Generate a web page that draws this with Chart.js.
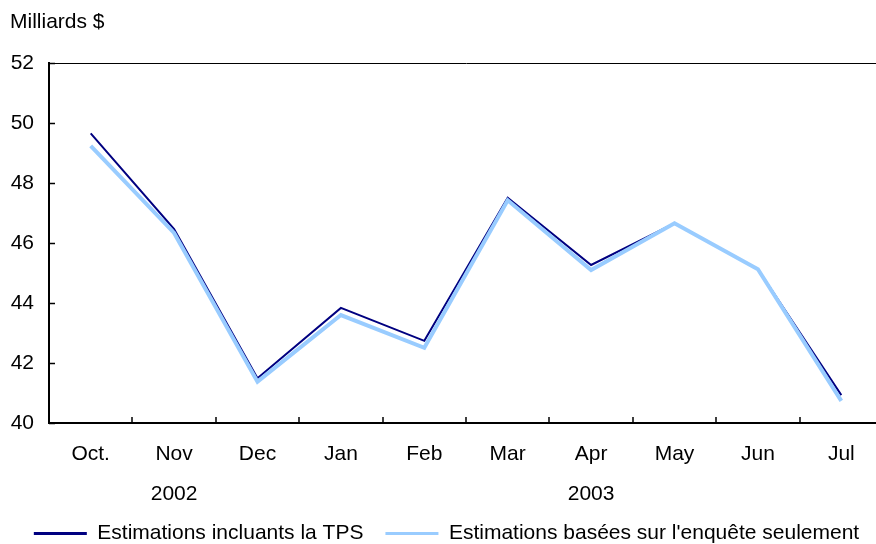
<!DOCTYPE html>
<html>
<head>
<meta charset="utf-8">
<script src="https://cdn.jsdelivr.net/npm/chart.js@4"></script>
<style>
  html, body { margin: 0; padding: 0; background: #fff; overflow: hidden; }
  #wrap { width: 876px; height: 544px; overflow: hidden; }
</style>
</head>
<body>
<div id="wrap"><canvas id="chart" width="883" height="544"></canvas></div>
<script>
// donnees (milliards $)
const mois = ['Oct.', 'Nov', 'Dec', 'Jan', 'Feb', 'Mar', 'Apr', 'May', 'Jun', 'Jul'];
const annees = ['', '2002', '', '', '', '', '2003', '', '', ''];
const avecTPS = [49.66, 46.47, 41.49, 43.84, 42.74, 47.51, 45.27, 46.66, 45.13, 40.93];
const enqueteSeule = [49.24, 46.34, 41.38, 43.60, 42.51, 47.43, 45.10, 46.66, 45.13, 40.74];
const yTicks = [40, 42, 44, 46, 48, 50, 52];

const FONT = 'Arial, "Liberation Sans", sans-serif';

// petites marques vers l'interieur du graphique, comme dans l'original
const inwardTicks = {
    id: 'inwardTicks',
    afterDatasetsDraw(chart) {
        const ctx = chart.ctx;
        const area = chart.chartArea;
        const x = chart.scales.x;
        const y = chart.scales.y;
        ctx.save();
        ctx.strokeStyle = '#000';
        ctx.lineWidth = 1.5;
        ctx.beginPath();
        yTicks.forEach(v => {
            const py = Math.round(y.getPixelForValue(v)) + 0.5;
            ctx.moveTo(area.left, py);
            ctx.lineTo(area.left + 6, py);
        });
        for (let i = 1; i < mois.length; i++) {
            const px = Math.round((x.getPixelForValue(i - 1) + x.getPixelForValue(i)) / 2);
            ctx.moveTo(px, area.bottom);
            ctx.lineTo(px, area.bottom - 6);
        }
        ctx.stroke();
        ctx.restore();
    }
};

const ctx = document.getElementById('chart').getContext('2d');
new Chart(ctx, {
    type: 'line',
    data: {
        labels: mois.map((m, i) => [m, annees[i]]),
        datasets: [
            {
                label: 'Estimations incluants la TPS',
                data: avecTPS,
                borderColor: '#000080',
                backgroundColor: '#000080',
                borderWidth: 2,
                pointRadius: 0,
                tension: 0,
                order: 1
            },
            {
                label: "Estimations basées sur l'enquête seulement",
                data: enqueteSeule,
                borderColor: '#99ccff',
                backgroundColor: '#99ccff',
                borderWidth: 4,
                pointRadius: 0,
                tension: 0,
                order: 0
            }
        ]
    },
    options: {
        responsive: false,
        animation: false,
        layout: { padding: { left: 10, right: 0, top: 8, bottom: -10 } },
        plugins: {
            title: {
                display: true,
                text: 'Milliards $',
                align: 'start',
                color: '#000',
                font: { family: FONT, size: 21, weight: 'normal' },
                padding: { top: 2, bottom: 28 }
            },
            legend: {
                position: 'bottom',
                labels: {
                    color: '#000',
                    font: { family: FONT, size: 21 },
                    boxWidth: 53,
                    boxHeight: 3,
                    padding: 22,
                    generateLabels(chart) {
                        return chart.data.datasets.map((d, i) => ({
                            text: d.label,
                            fillStyle: d.borderColor,
                            strokeStyle: d.borderColor,
                            lineWidth: 0,
                            fontColor: '#000',
                            datasetIndex: i
                        }));
                    }
                }
            },
            tooltip: { enabled: false }
        },
        scales: {
            x: {
                offset: true,
                grid: { display: false },
                border: { display: true, color: '#000', width: 2 },
                afterFit: s => { s.height = 78; },
                ticks: {
                    color: '#000',
                    font: { family: FONT, size: 21, lineHeight: 1.9 },
                    padding: 3,
                    maxRotation: 0,
                    autoSkip: false
                }
            },
            y: {
                min: 40,
                max: 52,
                afterBuildTicks: s => { s.ticks = yTicks.map(v => ({ value: v })); },
                afterFit: s => { s.width = 39; },
                grid: {
                    drawTicks: false,
                    color: c => (c.tick && c.tick.value === 52 ? '#000' : 'rgba(0,0,0,0)'),
                    lineWidth: 1
                },
                border: { display: true, color: '#000', width: 2 },
                ticks: {
                    color: '#000',
                    font: { family: FONT, size: 21 },
                    padding: 15
                }
            }
        }
    },
    plugins: [inwardTicks]
});
</script>
</body>
</html>
